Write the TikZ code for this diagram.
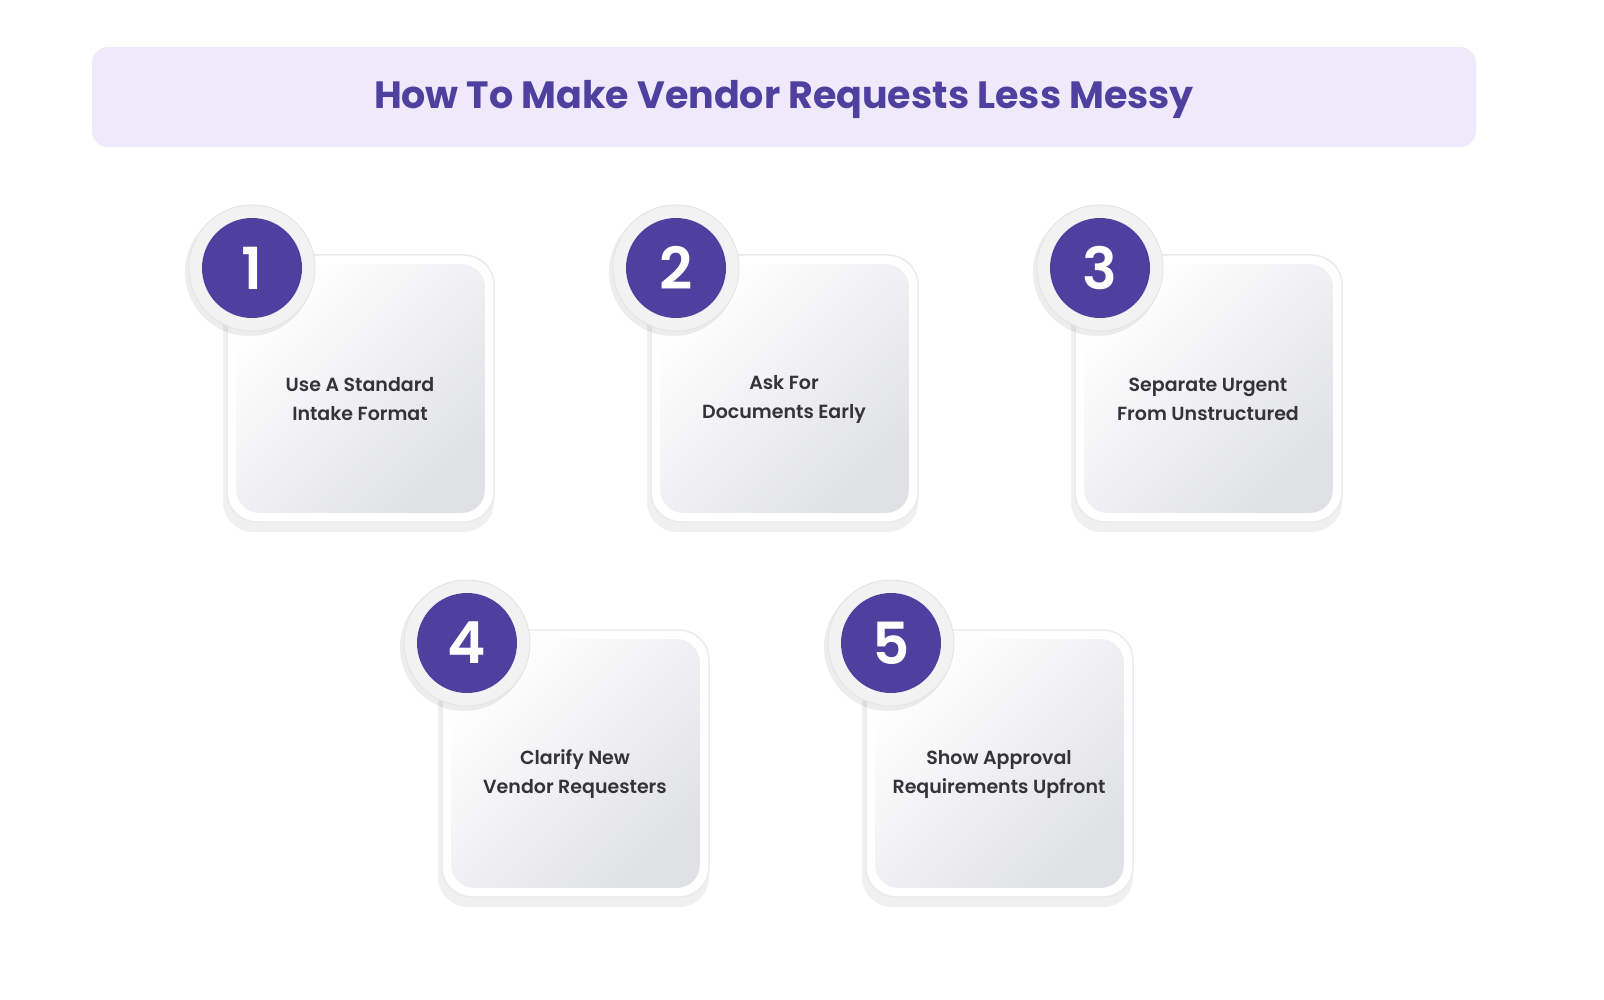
\documentclass[tikz,border=0pt]{standalone}
\usepackage{fontspec}
\setmainfont{Poppins}
\newfontfamily\semib{Poppins SemiBold}
\definecolor{purp}{HTML}{4F3F9E}
\definecolor{titlebg}{HTML}{EEEAFB}
\definecolor{cardg}{HTML}{E0E1E5}
\definecolor{txt}{HTML}{333338}
\tikzset{
  cardshadow/.style={fill=black,opacity=0.06,rounded corners=30pt},
  cardout/.style={fill=white,draw=black!8,line width=1.5pt,rounded corners=30pt},
  cardin/.style={left color=white,right color=cardg,shading angle=45,draw=white,line width=2pt,rounded corners=24pt},
  ringshadow/.style={circle,fill=black,opacity=0.07,minimum size=128pt},
  ring/.style={circle,fill=black!5,draw=black!10,line width=1pt,minimum size=126pt},
  numc/.style={circle,fill=purp,minimum size=100pt,text=white,font=\fontsize{58}{58}\selectfont\semib},
  cardtxt/.style={align=center,text=txt,font=\fontsize{19}{29}\selectfont\semib}
}
\begin{document}
\begin{tikzpicture}[x=1pt,y=-1pt]
\fill[white] (0,0) rectangle (1604,1000);
\fill[titlebg,rounded corners=16pt] (92,47) rectangle (1476,147);
\node (title) at (784,99) {\fontsize{38}{38}\selectfont\bfseries\color{purp}How To Make Vendor Requests Less Messy};
\foreach \x/\y/\n/\t [count=\i] in {227/255/1/{Use A Standard\\Intake Format},
  651/255/2/{Ask For\\Documents Early},
  1075/255/3/{Separate Urgent\\From Unstructured},
  442/630/4/{Clarify New\\Vendor Requesters},
  866/630/5/{Show Approval\\Requirements Upfront}}{
  \fill[cardshadow] (\x-4,\y+4) rectangle ++(271,273);
  \draw[cardout] (\x,\y) rectangle ++(267,267);
  \draw[cardin] (\x+8,\y+8) rectangle ++(251,251);
  \node[cardtxt] (t\i) at (\x+133,\y+144) {\t};
  \node[ringshadow] (s\i) at (\x+22,\y+17) {};
  \node[ring] (r\i) at (\x+25,\y+13) {};
  \node[numc] (n\i) at (\x+25,\y+13) {\n};
}
\pgfresetboundingbox
\useasboundingbox (0,0) rectangle (1604,1000);
\end{tikzpicture}
\end{document}
